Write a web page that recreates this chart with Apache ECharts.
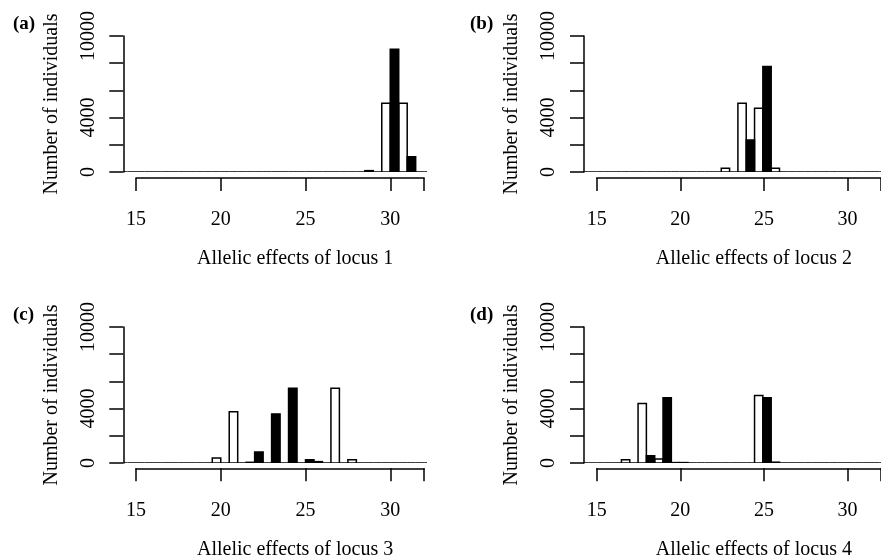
<!DOCTYPE html>
<html>
<head>
<meta charset="utf-8">
<script src="https://cdn.jsdelivr.net/npm/echarts@6/dist/echarts.min.js"></script>
<style>
  html, body { margin: 0; padding: 0; background: #fff; }
  #chart-container { width: 881px; height: 559px; }
</style>
</head>
<body>
<div id="chart-container"></div>
<script>
// allele values (bin centres), one white and one black bar per allele
var alleles = [14, 15, 16, 17, 18, 19, 20, 21, 22, 23, 24, 25, 26, 27, 28, 29, 30, 31, 32];

var whiteL1 = [0, 0, 0, 0, 0, 0, 0, 0, 0, 0, 0, 0, 0, 0, 0, 100, 5050, 5050, 0];
var blackL1 = [0, 0, 0, 0, 0, 0, 0, 0, 0, 0, 0, 0, 0, 0, 0, 0, 9020, 1130, 0];
var whiteL2 = [0, 0, 0, 0, 0, 0, 0, 0, 0, 270, 5050, 4680, 270, 0, 0, 0, 0, 0, 0];
var blackL2 = [0, 0, 0, 0, 0, 0, 0, 0, 0, 0, 2350, 7750, 0, 0, 0, 0, 0, 0, 0];
var whiteL3 = [0, 0, 0, 0, 0, 0, 370, 3760, 50, 0, 0, 0, 100, 5500, 240, 0, 0, 0, 0];
var blackL3 = [0, 0, 0, 0, 0, 0, 0, 0, 810, 3610, 5500, 240, 0, 0, 0, 0, 0, 0, 0];
var whiteL4 = [0, 0, 0, 240, 4370, 290, 30, 0, 0, 0, 0, 4960, 60, 0, 0, 0, 0, 0, 0];
var blackL4 = [0, 0, 0, 0, 540, 4790, 30, 0, 0, 0, 0, 4790, 0, 0, 0, 0, 0, 0, 0];

var yLabels = [0, 4000, 10000];
var xTicks = [15, 20, 25, 30, 32];
var xLabels = [15, 20, 25, 30];

var panels = [
  { tag: "(a)", name: "Allelic effects of locus 1", white: whiteL1, black: blackL1, ox: 0, oy: 0, tx: 8 },
  { tag: "(b)", name: "Allelic effects of locus 2", white: whiteL2, black: blackL2, ox: 460.7, oy: 0, tx: 465 },
  { tag: "(c)", name: "Allelic effects of locus 3", white: whiteL3, black: blackL3, ox: 0, oy: 291, tx: 8 },
  { tag: "(d)", name: "Allelic effects of locus 4", white: whiteL4, black: blackL4, ox: 460.7, oy: 291, tx: 465 },
];

var FONT = "Liberation Serif";
var PX = 16.95; // pixels per allele unit
var X15 = 136;  // pixel of value 15 in the left panels

function histItem(offset, fill) {
  return function (params, api) {
    var k = api.value(0);
    var v = api.value(1);
    var p0 = api.coord([k + offset, 0]);
    var p1 = api.coord([k + offset + 0.5, v]);
    return {
      type: "rect",
      shape: { x: p0[0], y: p1[1], width: p1[0] - p0[0], height: p0[1] - p1[1] },
      style: { fill: fill, stroke: "#000", lineWidth: 1.5 },
    };
  };
}

var grid = [], xAxis = [], yAxis = [], series = [], title = [];

panels.forEach(function (p, i) {
  var x15 = X15 + p.ox;
  // plot area
  grid.push({
    left: x15 - 0.75 * PX,
    top: 36 + p.oy,
    width: (32.1 - 14.25) * PX,
    height: 136,
  });
  // detached x axis below the bars
  grid.push({
    left: x15,
    top: 177 + p.oy,
    width: 17 * PX,
    height: 1,
  });
  var g = i * 2;

  xAxis.push({
    gridIndex: g, type: "value", min: 14.25, max: 32.1, show: false,
  });
  xAxis.push({
    gridIndex: g + 1, type: "value", min: 15, max: 32, interval: 5,
    name: p.name, nameLocation: "middle", nameGap: 71,
    nameTextStyle: { fontFamily: FONT, fontSize: 20, color: "#000", padding: [0, 0, 0, 30] },
    axisLine: { show: true, lineStyle: { color: "#000", width: 1.5 } },
    axisTick: { show: true, length: 13, customValues: xTicks, lineStyle: { color: "#000", width: 1.5 } },
    axisLabel: { customValues: xLabels, margin: 32, fontFamily: FONT, fontSize: 20, color: "#000" },
    splitLine: { show: false },
  });

  yAxis.push({
    gridIndex: g, type: "value", min: 0, max: 10000, interval: 2000,
    name: "Number of individuals", nameLocation: "middle", nameGap: 62, nameRotate: 90,
    nameTextStyle: { fontFamily: FONT, fontSize: 20, color: "#000" },
    axisLine: { show: true, lineStyle: { color: "#000", width: 1.5 } },
    axisTick: { show: true, length: 14, lineStyle: { color: "#000", width: 1.5 } },
    axisLabel: {
      rotate: 90, margin: 25, fontFamily: FONT, fontSize: 20, color: "#000",
      formatter: function (v) { return yLabels.indexOf(v) >= 0 ? String(v) : ""; },
    },
    splitLine: { show: false },
  });
  yAxis.push({ gridIndex: g + 1, type: "value", show: false });

  series.push({
    type: "custom", xAxisIndex: g, yAxisIndex: g, clip: true,
    renderItem: histItem(-0.5, "#fff"),
    data: alleles.map(function (k, j) { return [k, p.white[j]]; }),
  });
  series.push({
    type: "custom", xAxisIndex: g, yAxisIndex: g, clip: true,
    renderItem: histItem(0, "#000"),
    data: alleles.map(function (k, j) { return [k, p.black[j]]; }),
  });

  title.push({
    text: p.tag, left: p.tx, top: 10 + p.oy,
    textStyle: { fontFamily: FONT, fontSize: 19, fontWeight: "bold", color: "#000" },
  });
});

var dom = document.getElementById("chart-container");
var myChart = echarts.init(dom, null, { renderer: "canvas" });
myChart.setOption({
  backgroundColor: "#fff",
  animation: false,
  title: title,
  grid: grid,
  xAxis: xAxis,
  yAxis: yAxis,
  series: series,
});
</script>
</body>
</html>
